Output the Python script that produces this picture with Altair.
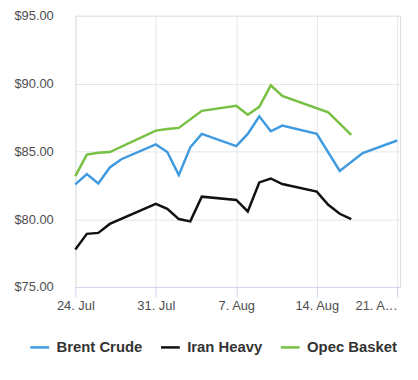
import altair as alt
import pandas as pd

series_names = ["Brent Crude", "Iran Heavy", "Opec Basket"]
series_colors = ["#3f9ae0", "#111111", "#77c043"]

brent_dates = ["2023-07-24", "2023-07-25", "2023-07-26", "2023-07-27", "2023-07-28",
               "2023-07-31", "2023-08-01", "2023-08-02", "2023-08-03", "2023-08-04",
               "2023-08-07", "2023-08-08", "2023-08-09", "2023-08-10", "2023-08-11",
               "2023-08-14", "2023-08-16", "2023-08-18", "2023-08-21"]
brent_values = [82.57, 83.32, 82.64, 83.81, 84.42, 85.51, 84.95, 83.25, 85.3, 86.29,
                85.39, 86.29, 87.58, 86.48, 86.9, 86.29, 83.56, 84.88, 85.8]

iran_dates = ["2023-07-24", "2023-07-25", "2023-07-26", "2023-07-27", "2023-07-31",
              "2023-08-01", "2023-08-02", "2023-08-03", "2023-08-04", "2023-08-07",
              "2023-08-08", "2023-08-09", "2023-08-10", "2023-08-11", "2023-08-14",
              "2023-08-15", "2023-08-16", "2023-08-17"]
iran_values = [77.77, 78.92, 78.99, 79.65, 81.13, 80.77, 80.01, 79.84, 81.66, 81.42,
               80.57, 82.71, 83.0, 82.59, 82.03, 81.06, 80.4, 80.01]

opec_dates = ["2023-07-24", "2023-07-25", "2023-07-26", "2023-07-27", "2023-07-31",
              "2023-08-01", "2023-08-02", "2023-08-04", "2023-08-07", "2023-08-08",
              "2023-08-09", "2023-08-10", "2023-08-11", "2023-08-15", "2023-08-17"]
opec_values = [83.18, 84.76, 84.9, 84.95, 86.53, 86.65, 86.73, 87.99, 88.36, 87.7,
               88.28, 89.87, 89.09, 87.87, 86.22]

y_ticks = [75, 80, 85, 90, 95]
x_tick_days = [(7, 24), (7, 31), (8, 7), (8, 14), (8, 21)]

rows = []
for name, ds, vs in [("Brent Crude", brent_dates, brent_values),
                     ("Iran Heavy", iran_dates, iran_values),
                     ("Opec Basket", opec_dates, opec_values)]:
    for d, v in zip(ds, vs):
        rows.append({"date": d, "value": v, "series": name})
df = pd.DataFrame(rows)

FONT = "Liberation Sans"

x_axis = alt.Axis(
    title=None,
    values=[alt.DateTime(year=2023, month=m, date=d, utc=True) for m, d in x_tick_days],
    labelExpr="utcdate(datum.value) == 21 && utcmonth(datum.value) == 7 ? '21. A…' : utcFormat(datum.value, '%-d. %b')",
    labelAlign=alt.condition("utcdate(datum.value) == 21 && utcmonth(datum.value) == 7", alt.value("right"), alt.value("center")),
    labelFont=FONT, labelFontSize=13, labelColor="#4d4d4d",
    labelPadding=3, ticks=True, tickSize=10, tickColor="#ccd6eb",
    domainColor="#ccd6eb", domainWidth=1,
    grid=True, gridColor="#e6e6e6", gridWidth=1,
)

y_axis = alt.Axis(
    title=None, values=y_ticks, format="$.2f",
    labelFont=FONT, labelFontSize=13, labelColor="#4d4d4d",
    labelAlign="left", labelPadding=62, ticks=False, tickSize=0,
    domain=False, grid=True, gridColor="#e6e6e6", gridWidth=1,
)

chart = alt.Chart(df).mark_line(strokeWidth=2.5, interpolate="linear").encode(
    x=alt.X("date:T", axis=x_axis,
            scale=alt.Scale(type="utc", domain=[
                alt.DateTime(year=2023, month=7, date=24, utc=True),
                alt.DateTime(year=2023, month=8, date=21, hours=6, utc=True)])),
    y=alt.Y("value:Q", axis=y_axis, scale=alt.Scale(domain=[75, 95], nice=False, zero=False)),
    color=alt.Color("series:N",
                    scale=alt.Scale(domain=series_names, range=series_colors),
                    legend=alt.Legend(title=None, orient="none", direction="horizontal",
                                      legendX=-47, legendY=324,
                                      symbolType="stroke", symbolStrokeWidth=2.5, symbolSize=361,
                                      labelFont=FONT, labelFontSize=15, labelFontWeight="bold",
                                      labelColor="#333333", labelOffset=6, columnPadding=13)),
    detail="series:N",
).properties(
    width=328, height=274,
    padding={"left": 68, "top": 6, "right": 10, "bottom": 80},
    autosize=alt.AutoSizeParams(type="none"),
).configure_view(stroke=None).configure(background="white")

chart.save("out.html", embed_options={"renderer": "svg", "actions": False})
